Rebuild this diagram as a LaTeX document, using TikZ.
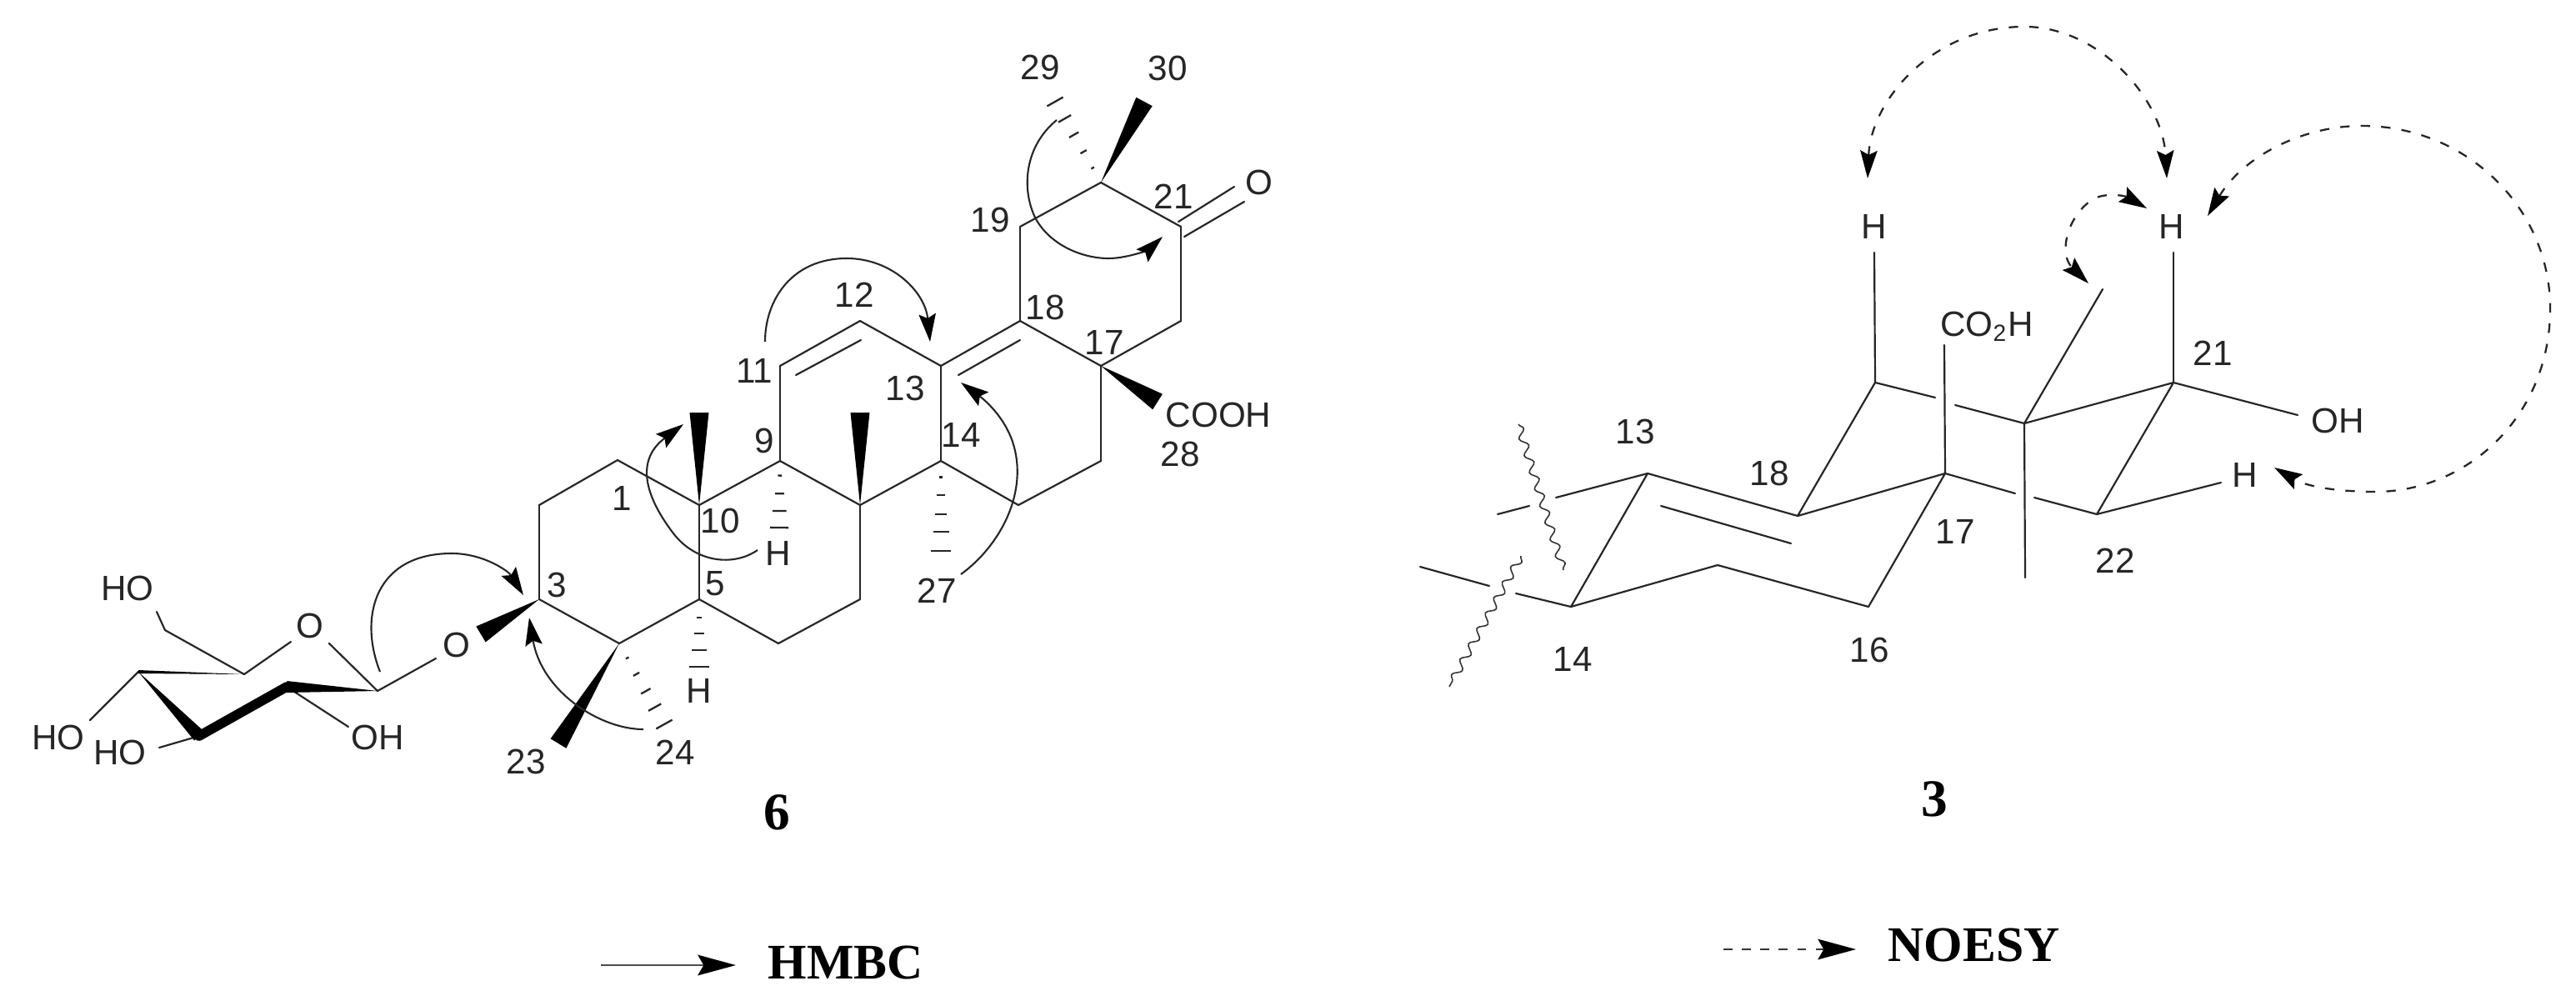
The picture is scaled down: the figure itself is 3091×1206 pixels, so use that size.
\documentclass[tikz,border=0pt]{standalone}
\usepackage{fontspec}
\setmainfont{Liberation Sans}
\newfontfamily\titlefont{Liberation Serif}
\usetikzlibrary{arrows.meta,calc,decorations.pathmorphing}
\tikzset{
  bond/.style={draw=black!85,line width=0.62pt,line cap=round},
  glab/.style={inner sep=0pt,font=\fontsize{12}{13}\selectfont,text=black!85},
  ttl/.style={inner sep=0pt,font=\titlefont\bfseries\fontsize{18}{20}\selectfont},
  keylab/.style={inner sep=0pt,font=\titlefont\bfseries\fontsize{17}{20}\selectfont},
  ctip/.tip={Stealth[length=9.5pt,width=5.8pt,inset=1.5pt,black]},
  ktip/.tip={Stealth[length=13pt,width=7pt,inset=2pt,black]},
  hmbc/.style={draw=black!85,line width=0.6pt,-ctip},
  hmbckey/.style={draw=black!70,line width=0.7pt,-ktip},
  noesykey/.style={draw=black!80,line width=0.6pt,dash pattern=on 3pt off 3.3pt,-ktip},
  noesyboth/.style={draw=black!85,line width=0.65pt,dash pattern=on 3.2pt off 3.8pt,ctip-ctip},
  wavy/.style={draw=black!80,line width=0.45pt,decorate,decoration={snake,amplitude=1.3pt,segment length=6pt}}
}
\newcommand{\wdg}[3]{\fill[black] (#1) -- ($(#2)!#3*0.2845pt!90:(#1)$) -- ($(#2)!#3*0.2845pt!-90:(#1)$) -- cycle;}
\newcommand{\hsh}[4]{\foreach \f in {#4}{
  \coordinate (hm) at ($(#1)!\f!(#2)$);
  \draw[black!85,line width=0.65pt] ($(hm)!\f*#3*0.2845pt!90:(#1)$) -- ($(hm)!\f*#3*0.2845pt!-90:(#1)$);}}
\begin{document}
\begin{tikzpicture}[x=0.01cm,y=-0.01cm]
\useasboundingbox (0,0) rectangle (3091,1206);
\fill[white] (0,0) rectangle (3091,1206);
% ---- compound 6: atoms
\foreach \n/\x/\y in {
 a1/741/552,a2/647/606,a3/647/719,a4/743/772,a5/839/719,a6/934/772,a7/1032/719,a8/1032/606,
 a9/936/553,a10/839/606,a11/936/439,a12/1032/385,a13/1129/439,a14/1129/553,a15/1222/606,
 a16/1321/553,a17/1321/439,a18/1224/385,a19/1224/272,a20/1321/219,a21/1417/272,a22/1417/385,
 m10/839/495,m8/1032/495,h9/935/633,m27/1129/661,h5/839/800,m23/670/892,m24/797/869,
 m29/1266/122,m30/1373/122,m28/1389/482,ob/577/761,
 d11/955/450,d12/1033/408,d13/1150/450,d18/1224/408,
 oa/1414/266,ob1/1481/224,oc/1421/284,od/1493/242,
 s1/453/829,s2/344/824,s3/239/883,s4/166/806,s5/293/809,s6/198/756,
 go1/523/790,ro1/395/772,ro2/349/770,ho6/188/734,ho4/108/864,ho3/191/897,ho2/418/872}
 {\coordinate (\n) at (\x,\y);}
\foreach \a/\b in {a1/a2,a2/a3,a3/a4,a4/a5,a5/a6,a6/a7,a7/a8,a8/a9,a9/a10,a10/a1,a10/a5,
 a9/a11,a11/a12,a12/a13,a13/a14,a14/a8,a14/a15,a15/a16,a16/a17,a17/a18,a18/a13,a18/a19,
 a19/a20,a20/a21,a21/a22,a22/a17,d11/d12,d13/d18,oa/ob1,oc/od,
 go1/s1,ro1/s1,ro2/s5,s5/s6,s6/ho6,s4/ho4,s3/ho3,s2/ho2}
 {\draw[bond] (\a) -- (\b);}
\wdg{a10}{m10}{11.5}
\wdg{a8}{m8}{11.5}
\wdg{a4}{m23}{11}
\wdg{a20}{m30}{11}
\wdg{a17}{m28}{11}
\wdg{a3}{ob}{11}
\hsh{a9}{h9}{11}{.22,.49,.75,1}
\hsh{a14}{m27}{12}{.18,.38,.59,.79,1}
\hsh{a5}{h5}{12}{.27,.51,.75,1}
\hsh{a4}{m24}{11}{.18,.38,.59,.79,1}
\hsh{a20}{m29}{11}{.18,.38,.59,.79,1}
% sugar bold bonds
\wdg{s5}{s4}{2}
\wdg{s4}{s3}{8}
\draw[black,line width=3.3pt,line cap=round] (s3) -- (s2);
\wdg{s1}{s2}{7}
% labels of 6
\foreach \n/\x/\y/\t in {
 l1/746/598/1,l3/668/702/3,l5/858/700/5,l9/917/529/9,l10/864/625/10,l11/905/445/11,l12/1025/354/12,
 l13/1086/466/13,l14/1153/522/14,l17/1325/411/17,l18/1254/369/18,l19/1188/264/19,l21/1408/236/21,
 l23/631/914/23,l24/810/903/24,l27/1124/709/27,l28/1416/545/28,l29/1248/81/29,l30/1401/82/30,
 th9/934/664/H,th5/839/829/H,tob/548/774/O,tcc/1511/219/O,tro/372/751/O,
 tho6/153/706/HO,tho4/70/885/HO,tho3/144/903/HO,tho2/453/885/OH}
 {\node[glab] (\n) at (\x,\y) {\t};}
\node[glab,anchor=west] (tcooh) at (1398,498) {COOH};
\node[ttl] (t6) at (932,975) {6};
% HMBC arrows
\coordinate (e1) at (909,660); \coordinate (e1t) at (820,509);
\coordinate (e2) at (456,806); \coordinate (e2t) at (628,714);
\coordinate (e3) at (772,875); \coordinate (e3t) at (635,741);
\coordinate (e4) at (918,410); \coordinate (e4t) at (1116,410);
\coordinate (e5) at (1153,689); \coordinate (e5t) at (1153,459);
\coordinate (e6) at (1268,144); \coordinate (e6t) at (1395,284);
\draw[hmbc] (e1) .. controls (880,680) and (835,675) .. (808,640) .. controls (770,590) and (765,550) .. (e1t);
\draw[hmbc] (e2) .. controls (430,740) and (450,664) .. (542,664) .. controls (580,664) and (610,685) .. (e2t);
\draw[hmbc] (e3) .. controls (720,875) and (650,830) .. (e3t);
\draw[hmbc] (e4) .. controls (918,360) and (950,310) .. (1016,310) .. controls (1070,310) and (1110,350) .. (e4t);
\draw[hmbc] (e5) .. controls (1200,655) and (1235,590) .. (1215,530) .. controls (1203,495) and (1175,475) .. (e5t);
\draw[hmbc] (e6) .. controls (1230,175) and (1225,225) .. (1242,261) .. controls (1260,295) and (1300,310) .. (1330,310) .. controls (1355,310) and (1380,298) .. (e6t);
% key HMBC
\coordinate (ka) at (721,1158);
\coordinate (kb) at (883,1158);
\draw[hmbckey] (ka) -- (kb);
\node[keylab,anchor=west] (khmbc) at (921,1155) {HMBC};
% ---- compound 3: atoms
\foreach \n/\x/\y in {
 b13/1977/568,b18/2157/619,b14/1885/728,b15/2061/678,b16/2242/728,b17/2334/568,
 b19/2250/459,b20/2429/508,b21/2608/459,b22/2516/617,
 g1/2322/477,g2/2346/486,g3/2418/592,g4/2441/597,
 u20/2523/347,v20/2430/693,u17/2333/414,hh19/2249/303,hh21/2608/303,oh21/2757/498,hh22/2665/579,
 d1/1993/607,d2/2149/652,
 c1/1867/597,c2/1835/607,c3/1797/617,c4/1819/712,c5/1787/703,c6/1704/680,
 w1/1822/509,w2/1876/684,w3/1825/667,w4/1739/824}
 {\coordinate (\n) at (\x,\y);}
\foreach \a/\b in {b13/b14,b13/b18,b18/b19,b18/b17,b17/b16,b16/b15,b15/b14,d1/d2,
 b19/g1,g2/b20,b20/b21,b21/b22,b17/g3,g4/b22,b22/hh22,b20/u20,b20/v20,b17/u17,
 b19/hh19,b21/hh21,b21/oh21,b13/c1,c2/c3,b14/c4,c5/c6}
 {\draw[bond] (\a) -- (\b);}
\draw[wavy] (w1) -- (w2);
\draw[wavy] (w3) -- (w4);
\foreach \n/\x/\y/\t in {
 q13/1962/518/13,q14/1887/791/14,q16/2243/780/16,q17/2346/638/17,q18/2123/568/18,q21/2655/424/21,q22/2538/673/22,
 th19/2249/272/H,th21/2606/272/H,th22/2694/570/H,toh/2805/505/OH}
 {\node[glab] (\n) at (\x,\y) {\t};}
\node[glab] (tco2h) at (2384,392) {CO$_{\mathrm{2}}$H};
\node[ttl] (t3) at (2321,959) {3};
% NOESY arrows
\coordinate (n1) at (2241,214); \coordinate (n2) at (2600,214);
\coordinate (n3) at (2576,250); \coordinate (n4) at (2506,340);
\coordinate (n5) at (2649,259); \coordinate (n6) at (2729,561);
\draw[noesyboth] (n1) .. controls (2245,120) and (2320,32) .. (2429,32) .. controls (2520,32) and (2595,120) .. (n2);
\draw[noesyboth] (n3) .. controls (2550,235) and (2525,230) .. (2510,240) .. controls (2480,260) and (2470,305) .. (n4);
\draw[noesyboth] (n5) .. controls (2690,190) and (2760,151) .. (2834,151) .. controls (2960,151) and (3060,250) .. (3060,370) .. controls (3060,500) and (2960,590) .. (2850,590) .. controls (2810,590) and (2770,585) .. (n6);
% key NOESY
\coordinate (kc) at (2068,1139);
\coordinate (kd) at (2227,1139);
\draw[noesykey] (kc) -- (kd);
\node[keylab,anchor=west] (knoesy) at (2265,1134) {NOESY};
\end{tikzpicture}
\end{document}
